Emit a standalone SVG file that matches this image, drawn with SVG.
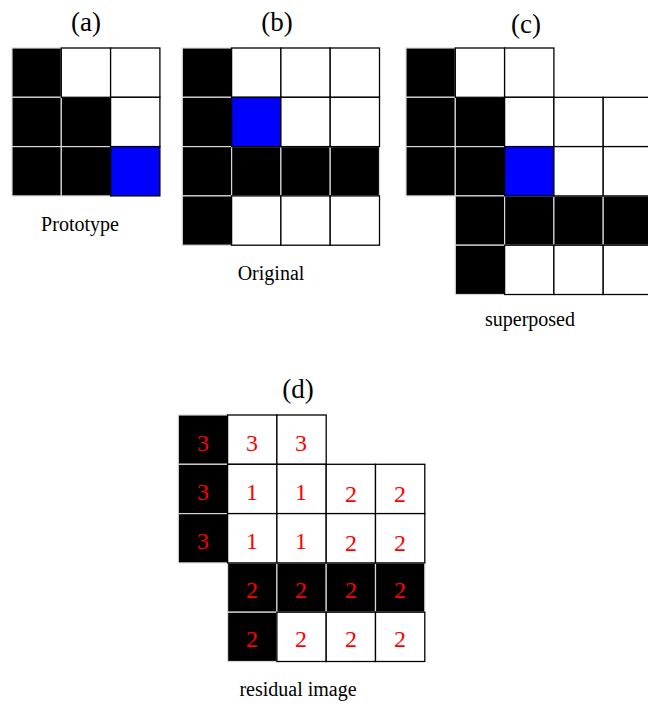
<svg xmlns="http://www.w3.org/2000/svg" width="648" height="706" viewBox="0 0 648 706">
<style>
.k{fill:#000;stroke:#d8d8d8;stroke-width:1.2}
.w{fill:#fff;stroke:#000;stroke-width:1.3}
.b{fill:#0000ff;stroke:#000;stroke-width:1.3}
text{font-family:'Liberation Serif','Times New Roman','DejaVu Serif',serif}
.t{fill:#000;text-anchor:middle}
.h{font-size:27px}
.c{font-size:20px}
.n{fill:#ff0000;font-size:24px;text-anchor:middle}
</style>
<rect width="648" height="706" fill="#fff"/>
<g id="panel-a">
<rect class="k" x="12" y="48" width="49.3" height="49.3"/>
<rect class="k" x="12" y="97.3" width="49.3" height="49.3"/>
<rect class="k" x="61.3" y="97.3" width="49.3" height="49.3"/>
<rect class="k" x="12" y="146.6" width="49.3" height="49.3"/>
<rect class="k" x="61.3" y="146.6" width="49.3" height="49.3"/>
<rect class="w" x="61.3" y="48" width="49.3" height="49.3"/>
<rect class="w" x="110.6" y="48" width="49.3" height="49.3"/>
<rect class="w" x="110.6" y="97.3" width="49.3" height="49.3"/>
<rect class="b" x="110.6" y="146.6" width="49.3" height="49.3"/>
<text class="t h" x="86" y="31">(a)</text>
<text class="t c" x="80" y="231" font-family="DejaVu Serif">Prototype</text>
</g>
<g id="panel-b">
<rect class="k" x="182.3" y="48" width="49.3" height="49.3"/>
<rect class="k" x="182.3" y="97.3" width="49.3" height="49.3"/>
<rect class="k" x="182.3" y="146.6" width="49.3" height="49.3"/>
<rect class="k" x="231.6" y="146.6" width="49.3" height="49.3"/>
<rect class="k" x="280.9" y="146.6" width="49.3" height="49.3"/>
<rect class="k" x="330.2" y="146.6" width="49.3" height="49.3"/>
<rect class="k" x="182.3" y="195.9" width="49.3" height="49.3"/>
<rect class="w" x="231.6" y="48" width="49.3" height="49.3"/>
<rect class="w" x="280.9" y="48" width="49.3" height="49.3"/>
<rect class="w" x="330.2" y="48" width="49.3" height="49.3"/>
<rect class="b" x="231.6" y="97.3" width="49.3" height="49.3"/>
<rect class="w" x="280.9" y="97.3" width="49.3" height="49.3"/>
<rect class="w" x="330.2" y="97.3" width="49.3" height="49.3"/>
<rect class="w" x="231.6" y="195.9" width="49.3" height="49.3"/>
<rect class="w" x="280.9" y="195.9" width="49.3" height="49.3"/>
<rect class="w" x="330.2" y="195.9" width="49.3" height="49.3"/>
<text class="t h" x="277" y="31">(b)</text>
<text class="t c" x="271" y="280">Original</text>
</g>
<g id="panel-c">
<rect class="k" x="406" y="48" width="49.3" height="49.3"/>
<rect class="k" x="406" y="97.3" width="49.3" height="49.3"/>
<rect class="k" x="455.3" y="97.3" width="49.3" height="49.3"/>
<rect class="k" x="406" y="146.6" width="49.3" height="49.3"/>
<rect class="k" x="455.3" y="146.6" width="49.3" height="49.3"/>
<rect class="k" x="455.3" y="195.9" width="49.3" height="49.3"/>
<rect class="k" x="504.6" y="195.9" width="49.3" height="49.3"/>
<rect class="k" x="553.9" y="195.9" width="49.3" height="49.3"/>
<rect class="k" x="603.2" y="195.9" width="49.3" height="49.3"/>
<rect class="k" x="455.3" y="245.2" width="49.3" height="49.3"/>
<rect class="w" x="455.3" y="48" width="49.3" height="49.3"/>
<rect class="w" x="504.6" y="48" width="49.3" height="49.3"/>
<rect class="w" x="504.6" y="97.3" width="49.3" height="49.3"/>
<rect class="w" x="553.9" y="97.3" width="49.3" height="49.3"/>
<rect class="w" x="603.2" y="97.3" width="49.3" height="49.3"/>
<rect class="b" x="504.6" y="146.6" width="49.3" height="49.3"/>
<rect class="w" x="553.9" y="146.6" width="49.3" height="49.3"/>
<rect class="w" x="603.2" y="146.6" width="49.3" height="49.3"/>
<rect class="w" x="504.6" y="245.2" width="49.3" height="49.3"/>
<rect class="w" x="553.9" y="245.2" width="49.3" height="49.3"/>
<rect class="w" x="603.2" y="245.2" width="49.3" height="49.3"/>
<text class="t h" x="526" y="33">(c)</text>
<text class="t c" x="530" y="326">superposed</text>
</g>
<g id="panel-d">
<rect class="k" x="178.3" y="415" width="49.3" height="49.3"/>
<rect class="k" x="178.3" y="464.3" width="49.3" height="49.3"/>
<rect class="k" x="178.3" y="513.6" width="49.3" height="49.3"/>
<rect class="k" x="227.6" y="562.9" width="49.3" height="49.3"/>
<rect class="k" x="276.9" y="562.9" width="49.3" height="49.3"/>
<rect class="k" x="326.2" y="562.9" width="49.3" height="49.3"/>
<rect class="k" x="375.5" y="562.9" width="49.3" height="49.3"/>
<rect class="k" x="227.6" y="612.2" width="49.3" height="49.3"/>
<rect class="w" x="227.6" y="415" width="49.3" height="49.3"/>
<rect class="w" x="276.9" y="415" width="49.3" height="49.3"/>
<rect class="w" x="227.6" y="464.3" width="49.3" height="49.3"/>
<rect class="w" x="276.9" y="464.3" width="49.3" height="49.3"/>
<rect class="w" x="326.2" y="464.3" width="49.3" height="49.3"/>
<rect class="w" x="375.5" y="464.3" width="49.3" height="49.3"/>
<rect class="w" x="227.6" y="513.6" width="49.3" height="49.3"/>
<rect class="w" x="276.9" y="513.6" width="49.3" height="49.3"/>
<rect class="w" x="326.2" y="513.6" width="49.3" height="49.3"/>
<rect class="w" x="375.5" y="513.6" width="49.3" height="49.3"/>
<rect class="w" x="276.9" y="612.2" width="49.3" height="49.3"/>
<rect class="w" x="326.2" y="612.2" width="49.3" height="49.3"/>
<rect class="w" x="375.5" y="612.2" width="49.3" height="49.3"/>
<text class="n" x="203" y="451">3</text>
<text class="n" x="252" y="451">3</text>
<text class="n" x="301" y="451">3</text>
<text class="n" x="203" y="500">3</text>
<text class="n" x="252" y="500">1</text>
<text class="n" x="301" y="500">1</text>
<text class="n" x="351" y="502">2</text>
<text class="n" x="400" y="502">2</text>
<text class="n" x="203" y="549">3</text>
<text class="n" x="252" y="549">1</text>
<text class="n" x="301" y="549">1</text>
<text class="n" x="351" y="551">2</text>
<text class="n" x="400" y="551">2</text>
<text class="n" x="252" y="598">2</text>
<text class="n" x="301" y="598">2</text>
<text class="n" x="351" y="598">2</text>
<text class="n" x="400" y="598">2</text>
<text class="n" x="252" y="647">2</text>
<text class="n" x="301" y="647">2</text>
<text class="n" x="351" y="647">2</text>
<text class="n" x="400" y="647">2</text>
<text class="t h" x="298" y="398">(d)</text>
<text class="t c" x="298" y="696">residual image</text>
</g>
</svg>
